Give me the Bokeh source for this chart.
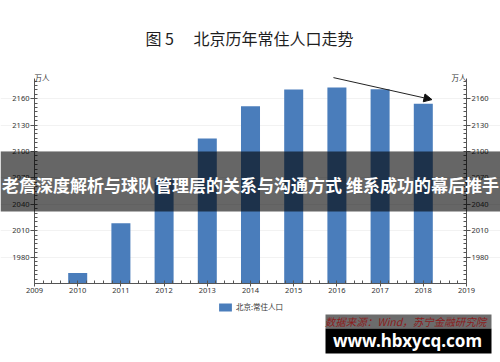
from bokeh.plotting import figure
from bokeh.models import (LinearAxis, Range1d, Label, BoxAnnotation, Arrow, NormalHead,
                          Legend, LegendItem, FixedTicker, ColumnDataSource)
from bokeh.embed import file_html
from bokeh.resources import INLINE

# ---- data ----
years = [2010, 2011, 2012, 2013, 2014, 2015, 2016, 2017, 2018]
population = [1961.9, 2018.6, 2069.3, 2114.8, 2151.6, 2170.5, 2172.9, 2170.7, 2154.2]
y_ticks = [1980, 2010, 2040, 2070, 2100, 2130, 2160]
x_ticks = [2009, 2010, 2011, 2012, 2013, 2014, 2015, 2016, 2017, 2018, 2019]
title_text = "图\u00a05\u3000\u00a0北京历年常住人口走势"
unit_text = "万人"
series_name = "北京:常住人口"
banner_text = "老詹深度解析与球队管理层的关系与沟通方式 维系成功的幕后推手"
source_text = "数据来源：Wind，苏宁金融研究院"
site_text = "www.hbxycq.com"
trend_start = (2015.92, 2184.0)
trend_end = (2018.2, 2159.0)

# ---- layout constants (canvas px) ----
W, H = 500, 362
FL, FR, FT, FB = 34, 466, 78, 283      # where the axes box sits on the canvas
Y0, Y1 = 1950, 2183                    # value range of the axes box
X0, X1 = x_ticks[0], x_ticks[-1]

# the plotting frame covers the whole canvas; axes are pinned inside it
kx = (X1 - X0) / (FR - FL)
ky = (Y1 - Y0) / (FB - FT)
xr = Range1d(X0 - FL * kx, X1 + (W - FR) * kx)
yr = Range1d(Y0 - (H - FB) * ky, Y1 + FT * ky)


def sx(cx):
    return cx


def sy(cy):
    return H - cy


CJK = "Noto Sans CJK SC"
BAR = "#4a7dbb"
AXC = "#555555"

src = ColumnDataSource(dict(year=years, pop=population))

p = figure(width=W, height=H, x_range=xr, y_range=yr, output_backend="svg",
           toolbar_location=None, x_axis_location=None, y_axis_location=None,
           min_border=0)
p.min_border_left = p.min_border_right = p.min_border_top = p.min_border_bottom = 0
p.outline_line_color = None
p.background_fill_color = "white"
p.border_fill_color = "white"

p.xgrid.grid_line_color = None
p.ygrid.grid_line_color = "#f2f2f2"
p.ygrid.ticker = FixedTicker(ticks=y_ticks)
p.ygrid.bounds = (X0, X1)

r = p.vbar(x="year", top="pop", bottom=Y0, width=0.44, source=src,
           fill_color=BAR, line_color=None)


def style(ax, out_len):
    ax.major_tick_out = out_len
    ax.major_tick_in = 0
    ax.minor_tick_in = 3
    ax.minor_tick_out = 0
    ax.major_label_standoff = 1
    ax.major_label_text_font = "Noto Sans"
    ax.major_label_text_font_size = "7.5px"
    ax.major_label_text_color = "#333333"
    ax.axis_line_color = AXC
    ax.major_tick_line_color = AXC
    ax.minor_tick_line_color = AXC


left_axis = LinearAxis(fixed_location=X0, bounds=(Y0, Y1),
                       ticker=FixedTicker(ticks=y_ticks, minor_ticks=list(range(Y0, Y1, 5))))
right_axis = LinearAxis(fixed_location=X1, bounds=(Y0, Y1),
                        ticker=FixedTicker(ticks=y_ticks, minor_ticks=list(range(Y0, Y1, 5))))
bottom_axis = LinearAxis(fixed_location=Y0, bounds=(X0, X1),
                         ticker=FixedTicker(ticks=x_ticks,
                                            minor_ticks=[X0 + i * 0.2 for i in range(51)]))
style(left_axis, 4)
style(right_axis, 4)
style(bottom_axis, 3)
p.add_layout(left_axis, "left")
p.add_layout(right_axis, "right")
p.add_layout(bottom_axis, "below")

# trend arrow
p.add_layout(Arrow(end=NormalHead(size=8, fill_color="#111111", line_color="#111111"),
                   x_start=trend_start[0], y_start=trend_start[1],
                   x_end=trend_end[0], y_end=trend_end[1],
                   line_color="#222222", line_width=1))

# unit labels
p.add_layout(Label(x=sx(FL), y=sy(77), x_units="screen", y_units="screen",
                   text=unit_text, text_font=CJK, text_font_size="7.5px",
                   text_color="#333333", text_align="left", text_baseline="middle"))
p.add_layout(Label(x=sx(FR), y=sy(77), x_units="screen", y_units="screen",
                   text=unit_text, text_font=CJK, text_font_size="7.5px",
                   text_color="#333333", text_align="right", text_baseline="middle"))

# title
p.add_layout(Label(x=sx(249), y=sy(37), x_units="screen", y_units="screen",
                   text=title_text, text_font=CJK, text_font_size="16px",
                   text_color="#1e1e1e", text_align="center", text_baseline="middle"))

# legend
legend = Legend(items=[LegendItem(label=series_name, renderers=[r])],
                location=(sx(217), sy(312)), padding=0, margin=0,
                glyph_width=16, glyph_height=10, label_height=10, label_width=10,
                label_standoff=3, label_text_font=CJK, label_text_font_size="7.5px",
                label_text_color="#333333", border_line_alpha=0,
                background_fill_alpha=0)
p.add_layout(legend, "center")

# banner overlay
p.add_layout(BoxAnnotation(left=sx(0), right=sx(W), top=sy(151), bottom=sy(211),
                           left_units="screen", right_units="screen",
                           top_units="screen", bottom_units="screen",
                           fill_color="black", fill_alpha=0.6, line_color=None,
                           level="overlay"))
p.add_layout(Label(x=sx(250), y=sy(184), x_units="screen", y_units="screen",
                   text=banner_text, text_font=CJK, text_font_size="17px",
                   text_font_style="bold", text_color="white",
                   text_align="center", text_baseline="middle", level="overlay"))

# watermark
p.add_layout(BoxAnnotation(left=sx(325), right=sx(491), top=sy(314), bottom=sy(328),
                           left_units="screen", right_units="screen",
                           top_units="screen", bottom_units="screen",
                           fill_color="#6c6c6c", fill_alpha=1, line_color=None,
                           level="overlay"))
p.add_layout(BoxAnnotation(left=sx(325), right=sx(491), top=sy(328), bottom=sy(353),
                           left_units="screen", right_units="screen",
                           top_units="screen", bottom_units="screen",
                           fill_color="black", fill_alpha=1, line_color=None,
                           level="overlay"))
p.add_layout(Label(x=sx(405), y=sy(321), x_units="screen", y_units="screen",
                   text=source_text, text_font=CJK, text_font_size="10.5px",
                   text_font_style="italic", text_color="#8a1c1c",
                   text_align="center", text_baseline="middle", level="overlay"))
p.add_layout(Label(x=sx(407), y=sy(340), x_units="screen", y_units="screen",
                   text=site_text, text_font="Noto Sans", text_font_size="17px",
                   text_font_style="bold", text_color="white",
                   text_align="center", text_baseline="middle", level="overlay"))

open("out.html", "w").write(file_html(p, INLINE))
